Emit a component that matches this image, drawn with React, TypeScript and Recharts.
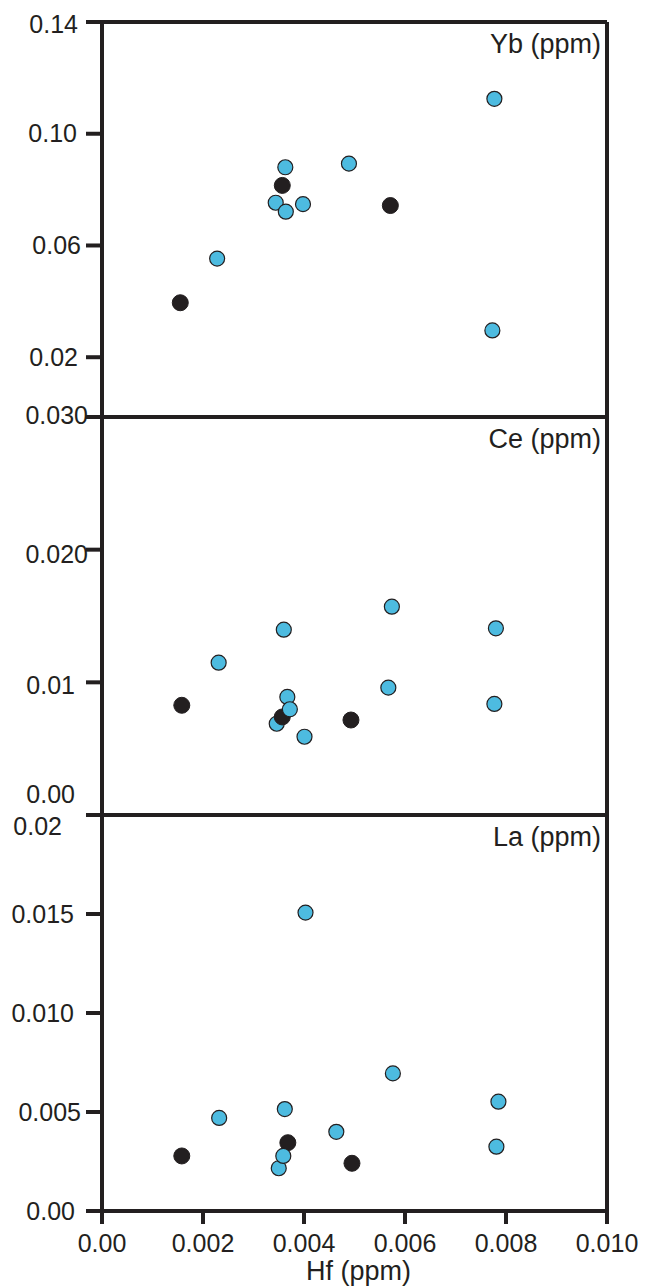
import React from "react";
import { ScatterChart, Scatter, XAxis, YAxis, ReferenceLine } from "recharts";

type Pt = { hf: number; v: number };

// Hf on the shared x axis (ppm)
const hfTicks = [0, 0.002, 0.004, 0.006, 0.008, 0.01];
const hfTickLabels = ["0.00", "0.002", "0.004", "0.006", "0.008", "0.010"];

// Yb panel
const ybTicks = [0.02, 0.06, 0.1, 0.14];
const ybTickLabels = ["0.02", "0.06", "0.10", "0.14"];
const ybBlue: Pt[] = [
  { hf: 0.00228, v: 0.0553 },
  { hf: 0.00344, v: 0.0753 },
  { hf: 0.00364, v: 0.0721 },
  { hf: 0.00398, v: 0.0748 },
  { hf: 0.00363, v: 0.088 },
  { hf: 0.00489, v: 0.0893 },
  { hf: 0.00777, v: 0.1125 },
  { hf: 0.00773, v: 0.0296 },
];
const ybBlack: Pt[] = [
  { hf: 0.00155, v: 0.0395 },
  { hf: 0.00357, v: 0.0815 },
  { hf: 0.00571, v: 0.0743 },
];

// Ce panel
const ceTicks = [0, 0.01, 0.02, 0.03];
const ceTickLabels = ["0.00", "0.01", "0.020", "0.030"];
const ceBlue: Pt[] = [
  { hf: 0.00231, v: 0.01148 },
  { hf: 0.0036, v: 0.01397 },
  { hf: 0.00574, v: 0.0157 },
  { hf: 0.0078, v: 0.01407 },
  { hf: 0.00567, v: 0.0096 },
  { hf: 0.00367, v: 0.0089 },
  { hf: 0.00346, v: 0.00688 },
  { hf: 0.00401, v: 0.0059 },
  { hf: 0.00777, v: 0.00837 },
];
// drawn over the black markers
const ceBlueOver: Pt[] = [{ hf: 0.00372, v: 0.00797 }];
const ceBlack: Pt[] = [
  { hf: 0.00158, v: 0.00827 },
  { hf: 0.00357, v: 0.00739 },
  { hf: 0.00493, v: 0.00716 },
];

// La panel
const laTicks = [0, 0.005, 0.01, 0.015, 0.02];
const laTickLabels = ["0.00", "0.005", "0.010", "0.015", "0.02"];
const laBlue: Pt[] = [
  { hf: 0.00403, v: 0.01507 },
  { hf: 0.00576, v: 0.00695 },
  { hf: 0.00785, v: 0.00552 },
  { hf: 0.00362, v: 0.00515 },
  { hf: 0.00232, v: 0.0047 },
  { hf: 0.00464, v: 0.004 },
  { hf: 0.00781, v: 0.00325 },
  { hf: 0.0035, v: 0.00216 },
];
const laBlueOver: Pt[] = [{ hf: 0.00359, v: 0.00278 }];
const laBlack: Pt[] = [
  { hf: 0.00158, v: 0.00278 },
  { hf: 0.00368, v: 0.00345 },
  { hf: 0.00495, v: 0.00241 },
];

const INK = "#231f20";
const BLUE = "#4dbbe0";
const FONT = "'Liberation Sans', Arial, sans-serif";
const W = 649;
const MARGIN_R = 42;
const AXIS_W = 102;

const blueDot = (p: any) => (
  <circle cx={p.cx} cy={p.cy} r={7.5} fill={BLUE} stroke={INK} strokeWidth={1.2} />
);
const blackDot = (p: any) => (
  <circle cx={p.cx} cy={p.cy} r={8} fill={INK} stroke={INK} strokeWidth={1} />
);

// y tick text; hand-placed labels get an [dx, dy] shift
type Shift = Record<string, [number, number]>;
const makeYTick =
  (ticks: number[], labels: string[], shift: Shift = {}) =>
  (props: any) => {
    const { x, y, payload } = props;
    const i = ticks.indexOf(payload.value);
    const label = i >= 0 ? labels[i] : String(payload.value);
    const [dx, dy] = shift[label] ?? [0, 0];
    return (
      <text
        x={x + dx}
        y={y + dy}
        dy="0.35em"
        textAnchor="end"
        fontSize={25}
        fontFamily={FONT}
        fill={INK}
      >
        {label}
      </text>
    );
  };

const makeTitle = (text: string) => (props: any) => {
  const vb = props.viewBox;
  if (!vb) return null;
  return (
    <text
      x={vb.x + vb.width - 6}
      y={vb.y + 31}
      textAnchor="end"
      fontSize={27}
      fontFamily={FONT}
      fill={INK}
    >
      {text}
    </text>
  );
};

const frame = { stroke: INK, strokeWidth: 4 };

interface PanelProps {
  title: string;
  domain: [number, number];
  ticks: number[];
  labels: string[];
  shift?: Shift;
  blue: Pt[];
  blueOver?: Pt[];
  black: Pt[];
  height: number;
  margin: { top: number; bottom: number };
  showX?: boolean;
}

const Panel: React.FC<PanelProps> = ({
  title,
  domain,
  ticks,
  labels,
  shift,
  blue,
  blueOver,
  black,
  height,
  margin,
  showX,
}) => (
  <ScatterChart
    width={W}
    height={height}
    margin={{ top: margin.top, right: MARGIN_R, bottom: margin.bottom, left: 0 }}
  >
    {showX ? (
      <XAxis
        type="number"
        dataKey="hf"
        domain={[0, 0.01]}
        ticks={hfTicks}
        interval={0}
        height={77}
        tickSize={13}
        tickMargin={10}
        tickFormatter={(v: number) => hfTickLabels[hfTicks.indexOf(v)] ?? String(v)}
        tick={{ fontSize: 25, fill: INK, fontFamily: FONT }}
        axisLine={frame}
        tickLine={frame}
        label={{
          value: "Hf (ppm)",
          position: "insideBottom",
          offset: 8,
          dx: 4,
          fontSize: 27,
          fill: INK,
          fontFamily: FONT,
        }}
      />
    ) : (
      <XAxis type="number" dataKey="hf" domain={[0, 0.01]} hide />
    )}
    <YAxis
      type="number"
      dataKey="v"
      domain={domain}
      allowDataOverflow
      ticks={ticks}
      interval={0}
      width={AXIS_W}
      tickSize={16}
      tickMargin={7}
      axisLine={frame}
      tickLine={frame}
      tick={makeYTick(ticks, labels, shift)}
    />
    <ReferenceLine y={domain[1]} {...frame} label={makeTitle(title)} />
    {!showX && <ReferenceLine y={domain[0]} {...frame} />}
    <ReferenceLine x={0.01} {...frame} />
    <Scatter data={blue} shape={blueDot} isAnimationActive={false} />
    <Scatter data={black} shape={blackDot} isAnimationActive={false} />
    {blueOver && <Scatter data={blueOver} shape={blueDot} isAnimationActive={false} />}
  </ScatterChart>
);

export default function App() {
  return (
    <div
      style={{
        position: "absolute",
        left: 0,
        top: 0,
        width: W,
        height: 1288,
        background: "#fff",
      }}
    >
      <div style={{ position: "absolute", left: 0, top: 0 }}>
        <Panel
          title="Yb (ppm)"
          domain={[-0.0014, 0.14]}
          ticks={ybTicks}
          labels={ybTickLabels}
          shift={{ "0.14": [-1, 2], "0.10": [-2, 0], "0.06": [2, 0], "0.02": [-1, 0] }}
          blue={ybBlue}
          black={ybBlack}
          height={430}
          margin={{ top: 22, bottom: 13 }}
        />
      </div>
      <div style={{ position: "absolute", left: 0, top: 400 }}>
        <Panel
          title="Ce (ppm)"
          domain={[0, 0.03]}
          ticks={ceTicks}
          labels={ceTickLabels}
          shift={{
            "0.00": [-4, -21],
            "0.01": [-4, 3],
            "0.020": [9, 5],
            "0.030": [9, -2],
          }}
          blue={ceBlue}
          blueOver={ceBlueOver}
          black={ceBlack}
          height={430}
          margin={{ top: 17, bottom: 15 }}
        />
      </div>
      <div style={{ position: "absolute", left: 0, top: 800 }}>
        <Panel
          title="La (ppm)"
          domain={[0, 0.02]}
          ticks={laTicks}
          labels={laTickLabels}
          shift={{
            "0.00": [-4, 0],
            "0.005": [2, 0],
            "0.010": [-5, 0],
            "0.015": [-5, 0],
            "0.02": [-17, 11],
          }}
          blue={laBlue}
          blueOver={laBlueOver}
          black={laBlack}
          height={488}
          margin={{ top: 15, bottom: 0 }}
          showX
        />
      </div>
    </div>
  );
}
